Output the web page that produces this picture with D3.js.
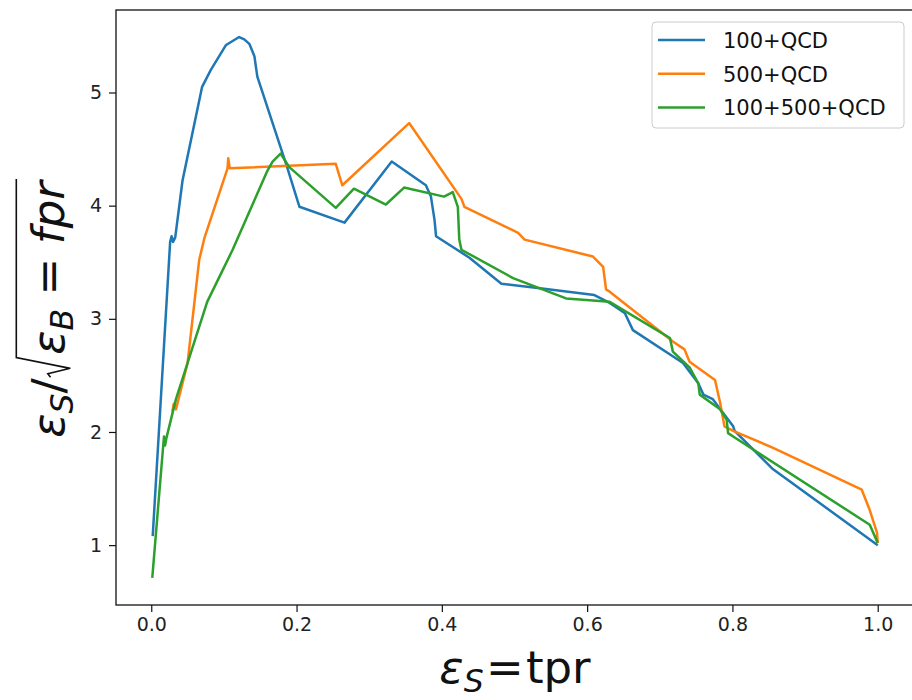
<!DOCTYPE html>
<html>
<head>
<meta charset="utf-8">
<script src="https://cdn.jsdelivr.net/npm/d3@7"></script>
<style>
  body { margin: 0; background: #fff; }
  svg { display: block; font-family: "DejaVu Sans", sans-serif; }
</style>
</head>
<body>
<div id="chart"></div>
<script>
const width = 912;
const height = 700;
const margin = { top: 10, right: -2, bottom: 95, left: 116 };

// series: [tpr, eps_S/sqrt(eps_B)]
const seriesNames = ["100+QCD", "500+QCD", "100+500+QCD"];
const seriesColors = ["#1f77b4", "#ff7f0e", "#2ca02c"];

const blue = [
  [0.002, 1.08], [0.026, 3.68], [0.028, 3.73], [0.030, 3.68], [0.033, 3.72],
  [0.043, 4.22], [0.070, 5.05], [0.082, 5.20], [0.103, 5.42], [0.121, 5.49],
  [0.128, 5.47], [0.135, 5.43], [0.142, 5.32], [0.146, 5.14], [0.187, 4.34],
  [0.204, 3.99], [0.266, 3.85], [0.331, 4.39], [0.378, 4.18], [0.385, 4.08],
  [0.390, 3.87], [0.392, 3.73], [0.438, 3.54], [0.482, 3.31], [0.535, 3.27],
  [0.610, 3.21], [0.631, 3.14], [0.645, 3.08], [0.652, 3.05], [0.663, 2.90],
  [0.732, 2.61], [0.753, 2.43], [0.760, 2.33], [0.773, 2.29], [0.801, 2.05],
  [0.803, 2.01], [0.856, 1.67], [1.000, 1.00]
];

const orange = [
  [0.029, 2.18], [0.031, 2.25], [0.034, 2.20], [0.050, 2.61], [0.066, 3.52],
  [0.073, 3.71], [0.105, 4.33], [0.106, 4.42], [0.108, 4.33], [0.254, 4.37],
  [0.263, 4.18], [0.355, 4.73], [0.427, 4.06], [0.431, 3.99], [0.505, 3.76],
  [0.514, 3.70], [0.608, 3.55], [0.622, 3.46], [0.626, 3.26], [0.631, 3.24],
  [0.718, 2.80], [0.734, 2.73], [0.741, 2.62], [0.776, 2.46], [0.783, 2.26],
  [0.789, 2.05], [0.801, 2.01], [0.856, 1.86], [0.978, 1.49], [0.989, 1.31],
  [0.999, 1.11], [1.000, 1.02]
];

const green = [
  [0.0014, 0.71], [0.0175, 1.96], [0.019, 1.88], [0.021, 1.95], [0.034, 2.29],
  [0.077, 3.15], [0.112, 3.61], [0.160, 4.31], [0.167, 4.39], [0.178, 4.46],
  [0.190, 4.34], [0.254, 3.98], [0.279, 4.15], [0.323, 4.01], [0.348, 4.16],
  [0.403, 4.08], [0.415, 4.12], [0.422, 3.99], [0.424, 3.70], [0.427, 3.61],
  [0.498, 3.36], [0.571, 3.18], [0.631, 3.15], [0.714, 2.83], [0.718, 2.71],
  [0.741, 2.57], [0.753, 2.43], [0.755, 2.33], [0.783, 2.20], [0.792, 2.11],
  [0.794, 1.99], [0.801, 1.96], [0.989, 1.18], [1.000, 1.02]
];

const xTicks = [0.0, 0.2, 0.4, 0.6, 0.8, 1.0];
const yTicks = [1, 2, 3, 4, 5];

const allSeries = [blue, orange, green];

const svg = d3.select("#chart")
    .append("svg")
    .attr("width", width)
    .attr("height", height);

// matplotlib-style 5% padding on the data range
const xExt = d3.extent(allSeries.flat(), d => d[0]);
const yExt = d3.extent(allSeries.flat(), d => d[1]);
const xPad = (xExt[1] - xExt[0]) * 0.05;
const yPad = (yExt[1] - yExt[0]) * 0.05;

const x = d3.scaleLinear()
    .domain([xExt[0] - xPad, xExt[1] + xPad])
    .range([margin.left, width - margin.right]);

const y = d3.scaleLinear()
    .domain([yExt[0] - yPad, yExt[1] + yPad])
    .range([height - margin.bottom, margin.top]);

// lines
const line = d3.line().x(d => x(d[0])).y(d => y(d[1]));

svg.selectAll("path.series")
    .data(allSeries)
    .enter()
    .append("path")
    .attr("class", "series")
    .attr("d", line)
    .attr("fill", "none")
    .attr("stroke", (d, i) => seriesColors[i])
    .attr("stroke-width", 2.5)
    .attr("stroke-linejoin", "round")
    .attr("stroke-linecap", "butt");

// axes
const xAxis = svg.append("g")
    .attr("transform", `translate(0,${height - margin.bottom})`)
    .call(d3.axisBottom(x).tickValues(xTicks).tickFormat(d3.format(".1f")).tickSizeOuter(0).tickSize(7).tickPadding(6));

const yAxis = svg.append("g")
    .attr("transform", `translate(${margin.left},0)`)
    .call(d3.axisLeft(y).tickValues(yTicks).tickFormat(d3.format("d")).tickSizeOuter(0).tickSize(7).tickPadding(7));

[xAxis, yAxis].forEach(a => {
    a.select(".domain").remove();
    a.selectAll(".tick line").attr("stroke", "#111").attr("stroke-width", 1.2);
    a.selectAll(".tick text")
        .attr("fill", "#222")
        .style("font-family", "DejaVu Sans")
        .style("font-size", "19px");
});

// frame
svg.append("rect")
    .attr("x", margin.left)
    .attr("y", margin.top)
    .attr("width", width - margin.left - margin.right)
    .attr("height", height - margin.top - margin.bottom)
    .attr("fill", "none")
    .attr("stroke", "#111")
    .attr("stroke-width", 1.3);

// math-ish labels built from pieces
function mathLabel(g, pieces, size) {
    let pos = 0;
    let sqrtAt = null;
    pieces.forEach(p => {
        if (p.sqrt) {
            sqrtAt = pos;
            pos += size * 0.52;
            return;
        }
        if (p.gap) {
            pos += size * p.gap;
            return;
        }
        const t = g.append("text")
            .attr("x", pos)
            .attr("y", p.sub ? size * 0.2 : 0)
            .style("font-family", "DejaVu Sans")
            .style("font-size", (p.sub ? size * 0.7 : size) + "px")
            .style("font-style", p.it ? "italic" : "normal")
            .attr("fill", "#111")
            .text(p.t);
        pos += t.node().getComputedTextLength();
    });
    if (sqrtAt !== null) {
        const s = sqrtAt;
        g.append("path")
            .attr("d", `M${s + size * 0.02},${-size * 0.30} L${s + size * 0.1},${-size * 0.36} L${s + size * 0.22},${size * 0.14} L${s + size * 0.46},${-size * 1.06} H${pos + size * 0.05}`)
            .attr("fill", "none")
            .attr("stroke", "#111")
            .attr("stroke-width", 1.6);
    }
    return pos;
}

const labelSize = 45;

// x label
const xl = svg.append("g");
const xw = mathLabel(xl, [
    { t: "ε", it: true }, { t: "S", it: true, sub: true },
    { gap: 0.05 }, { t: "=" }, { gap: 0.05 }, { t: "tpr" }
], labelSize);
xl.attr("transform", `translate(${(margin.left + width - margin.right) / 2 - xw / 2},683)`);

// y label
const ylOuter = svg.append("g")
    .attr("transform", `translate(64,${(margin.top + height - margin.bottom) / 2 + 2}) rotate(-90)`);
const yl = ylOuter.append("g");
const yw = mathLabel(yl, [
    { t: "ε", it: true }, { t: "S", it: true, sub: true },
    { t: "/" }, { sqrt: true },
    { t: "ε", it: true }, { t: "B", it: true, sub: true },
    { gap: 0.3 }, { t: "=" }, { gap: 0.3 }, { t: "fpr", it: true }
], labelSize);
yl.attr("transform", `translate(${-yw / 2},0)`);

// legend
const legend = svg.append("g").attr("transform", "translate(652,22)");
legend.append("rect")
    .attr("width", 252)
    .attr("height", 106)
    .attr("rx", 4)
    .attr("fill", "#fff")
    .attr("fill-opacity", 0.8)
    .attr("stroke", "#ccc")
    .attr("stroke-width", 1);

const rows = legend.selectAll("g.row")
    .data(seriesNames)
    .enter()
    .append("g")
    .attr("class", "row")
    .attr("transform", (d, i) => `translate(0,${18 + i * 33.7})`);

rows.append("line")
    .attr("x1", 6).attr("x2", 53)
    .attr("stroke", (d, i) => seriesColors[i])
    .attr("stroke-width", 2.5);

rows.append("text")
    .attr("x", 71)
    .attr("y", 1)
    .attr("dominant-baseline", "central")
    .style("font-family", "DejaVu Sans")
    .style("font-size", "21px")
    .attr("fill", "#111")
    .text(d => d);
</script>
</body>
</html>
